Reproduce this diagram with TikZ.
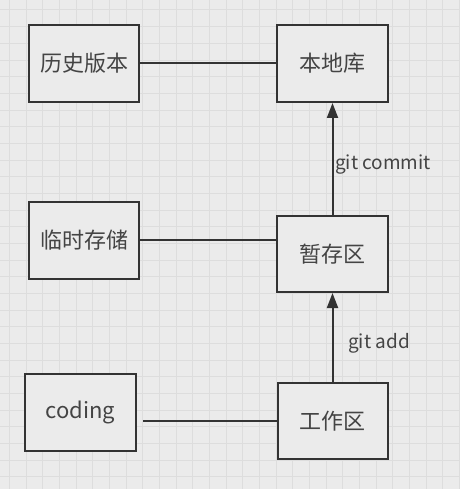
\documentclass[tikz,border=0pt]{standalone}
\usepackage{fontspec}
\setmainfont{Noto Sans CJK SC}
\usetikzlibrary{arrows.meta}
\definecolor{bg}{HTML}{EBEBEB}
\definecolor{gridc}{HTML}{DDDDDD}
\definecolor{edge}{HTML}{333333}
\definecolor{txt}{HTML}{444444}
\tikzset{
  box/.style={draw=edge, line width=2pt, fill=bg, rectangle, inner sep=0pt,
    text=txt, font=\fontsize{22}{26}\selectfont},
  link/.style={draw=edge, line width=2pt},
  arr/.style={draw=edge, line width=2pt, -{Triangle[length=15pt,width=11pt]}},
  lbl/.style={text=txt, font=\fontsize{19}{23}\selectfont, inner sep=0pt, anchor=west}
}
\begin{document}
\begin{tikzpicture}[x=1pt,y=-1pt]
\useasboundingbox (0,0) rectangle (460,489);
\fill[bg] (0,0) rectangle (460,489);
\foreach \i in {0,...,27} {
  \draw[gridc, line width=1pt] ({9.5+16.67*\i},0) -- ({9.5+16.67*\i},489);
}
\foreach \j in {0,...,29} {
  \draw[gridc, line width=1pt] (0,{10+16.67*\j}) -- (460,{10+16.67*\j});
}
\node[box, minimum width=110pt, minimum height=77pt] (hist) at (84,63.5) {历史版本};
\node[box, minimum width=111pt, minimum height=77pt] (local) at (332.5,63.5) {本地库};
\node[box, minimum width=110pt, minimum height=77pt] (tmp) at (84,240) {临时存储};
\node[box, minimum width=111pt, minimum height=76pt] (stage) at (332.5,254) {暂存区};
\node[box, minimum width=111pt, minimum height=77pt] (coding) at (80.5,412.5) {coding};
\node[box, minimum width=110pt, minimum height=76pt] (work) at (332.5,421) {工作区};
\draw[link] (hist.east) -- (local.west);
\draw[link] (tmp.east) -- (tmp.east -| stage.west);
\coordinate (cstart) at ([xshift=6pt]coding.east |- work.west);
\draw[link] (cstart) -- (work.west);
\draw[arr] (work.north) -- (stage.south);
\draw[arr] (stage.north) -- (local.south);
\node[lbl] (lcommit) at (335,165) {git commit};
\node[lbl] (ladd) at (348,343) {git add};
\end{tikzpicture}
\end{document}
